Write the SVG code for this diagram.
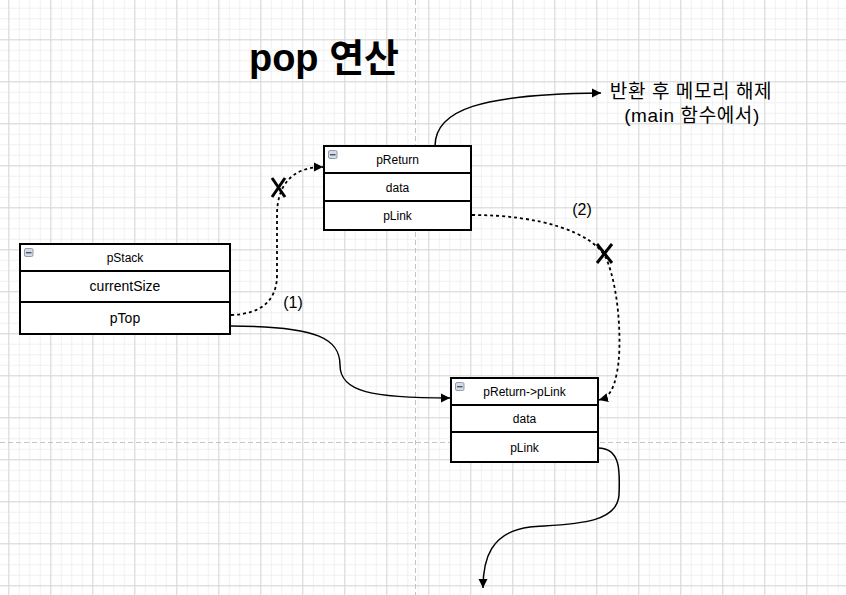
<svg xmlns="http://www.w3.org/2000/svg" width="846" height="595" viewBox="0 0 846 595">
<style>
.box{fill:#fff;stroke:#000;stroke-width:2}
.sep{stroke:#000;stroke-width:2}
.t{font-family:"Liberation Sans",Arial,sans-serif;fill:#000;text-anchor:middle}
.k{font-family:"Liberation Sans","Noto Sans CJK KR",sans-serif;fill:#000;text-anchor:middle}
.c{fill:none;stroke:#000;stroke-width:1.5}
.d{fill:none;stroke:#000;stroke-width:1.8;stroke-dasharray:3,3}
.x{stroke:#000;stroke-width:3;stroke-linecap:butt}
.pb{stroke:#c4c4c4;stroke-width:1;stroke-dasharray:5,3}
</style>
<defs>
<pattern id="minor" width="10.5" height="10.5" x="8.3" y="-2.7" patternUnits="userSpaceOnUse">
<path d="M0,0.5H10.5M0.5,0V10.5" stroke="#f0f0f0" stroke-width="1" fill="none"/>
</pattern>
<pattern id="major" width="42" height="42" x="8.3" y="-2.7" patternUnits="userSpaceOnUse">
<path d="M0,0.5H42M0.5,0V42" stroke="#d8d8d8" stroke-width="1" fill="none"/>
</pattern>
<marker id="arr" markerWidth="10" markerHeight="10" refX="9" refY="5" orient="auto" markerUnits="userSpaceOnUse">
<path d="M0,0.5L9,5L0,9.5Z" fill="#000"/>
</marker>
<g id="icon">
<rect x="0.5" y="0.5" width="8.5" height="8" rx="1.5" fill="#d4dbe5" stroke="#8e9db1" stroke-width="1"/>
<rect x="2" y="4" width="5.5" height="1.4" fill="#4a5566"/>
</g>
</defs>
<rect width="846" height="595" fill="#fff"/>
<rect width="846" height="595" fill="url(#minor)"/>
<rect width="846" height="595" fill="url(#major)"/>
<line class="pb" x1="415.5" y1="0" x2="415.5" y2="595"/>
<line class="pb" x1="0" y1="442.5" x2="846" y2="442.5"/>

<text class="k" x="324" y="71" font-size="38" font-weight="bold">pop 연산</text>

<g id="connectors">
<path class="c" d="M435,146 C435,110 480,94 601,93" marker-end="url(#arr)"/>
<path class="d" d="M231,315 C262,314 277,300 277,275 L277,215 C277,185 292,167 323,167" marker-end="url(#arr)"/>
<path class="d" d="M472,215 C540,215 592,232 606,258 C620,290 622,350 617,372 C614,388 610,397 599,400" marker-end="url(#arr)"/>
<path class="c" d="M231,326 C320,326 340,340 340,365 C340,392 372,398 450,398" marker-end="url(#arr)"/>
<path class="c" d="M598,448 C621,448 620,472 619,495 C617,525 570,524 530,527 C490,532 483,560 483,588" marker-end="url(#arr)"/>
<g id="cross1"><line class="x" x1="272" y1="178" x2="285" y2="197"/><line class="x" x1="285" y1="178" x2="272" y2="197"/></g>
<g id="cross2"><line class="x" x1="597" y1="244" x2="612" y2="263"/><line class="x" x1="612" y1="244" x2="597" y2="263"/></g>
</g>

<text class="t" x="293" y="308" font-size="16">(1)</text>
<text class="t" x="582" y="215" font-size="16">(2)</text>
<text class="k" x="691" y="98" font-size="19" letter-spacing="0.6">반환 후 메모리 해제</text>
<text class="k" x="692" y="122" font-size="19" letter-spacing="0.6">(main 함수에서)</text>

<g id="pStack">
<rect class="box" x="20" y="244" width="210" height="90"/>
<line class="sep" x1="20" y1="271" x2="230" y2="271"/>
<line class="sep" x1="20" y1="302" x2="230" y2="302"/>
<use href="#icon" x="24" y="248"/>
<text class="t" x="125" y="262" font-size="12">pStack</text>
<text class="t" x="125" y="291" font-size="14">currentSize</text>
<text class="t" x="125" y="323" font-size="14">pTop</text>
</g>

<g id="pReturn">
<rect class="box" x="324" y="146" width="147" height="84"/>
<line class="sep" x1="324" y1="173" x2="471" y2="173"/>
<line class="sep" x1="324" y1="201" x2="471" y2="201"/>
<use href="#icon" x="328" y="150"/>
<text class="t" x="397.5" y="164" font-size="12">pReturn</text>
<text class="t" x="397.5" y="192" font-size="12">data</text>
<text class="t" x="397.5" y="220" font-size="12">pLink</text>
</g>

<g id="pReturnLink">
<rect class="box" x="451" y="378" width="147" height="84"/>
<line class="sep" x1="451" y1="405" x2="598" y2="405"/>
<line class="sep" x1="451" y1="432" x2="598" y2="432"/>
<use href="#icon" x="455" y="382"/>
<text class="t" x="524.5" y="396" font-size="12">pReturn-&gt;pLink</text>
<text class="t" x="524.5" y="423" font-size="12">data</text>
<text class="t" x="524.5" y="452" font-size="12">pLink</text>
</g>
</svg>
